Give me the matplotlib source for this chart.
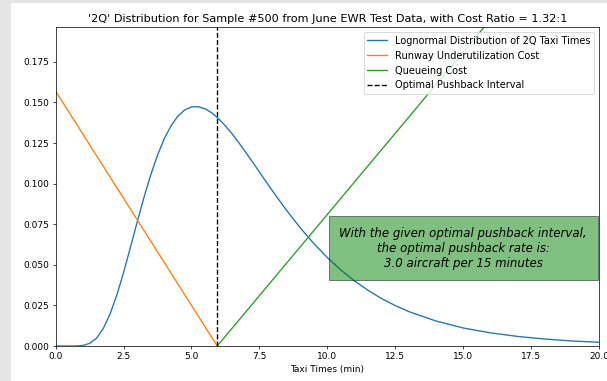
from matplotlib import pyplot as plt
from matplotlib.patches import Rectangle
import numpy as np

# taxi time grid (min) and lognormal density
taxi_times = [0.0, 0.5, 0.75, 1.0, 1.25, 1.5, 1.75, 2.0, 2.25, 2.5, 2.75, 3.0,
              3.25, 3.5, 3.75, 4.0, 4.25, 4.5, 4.75, 5.0, 5.25, 5.5, 5.75, 6.0,
              6.25, 6.5, 6.75, 7.0, 7.25, 7.5, 8.0, 8.5, 9.0, 9.5, 10.0, 10.5,
              11.0, 11.5, 12.0, 12.5, 13.0, 14.0, 15.0, 16.0, 17.0, 18.0, 19.0, 20.0]
density = [0.0, 0.0, 0.0, 0.0003, 0.0016, 0.0047, 0.0106, 0.0195, 0.0312, 0.0452,
           0.0605, 0.0762, 0.0914, 0.1053, 0.1175, 0.1277, 0.1357, 0.1416, 0.1454,
           0.1473, 0.1474, 0.1461, 0.1436, 0.1400, 0.1356, 0.1306, 0.1251, 0.1192,
           0.1133, 0.1072, 0.0951, 0.0836, 0.0729, 0.0632, 0.0545, 0.0468, 0.0401,
           0.0343, 0.0292, 0.0249, 0.0212, 0.0154, 0.0111, 0.0081, 0.0059, 0.0043,
           0.0031, 0.0023]

optimal_interval = 5.95
runway_x = [0.0, optimal_interval]
runway_cost = [0.157, 0.0]
queue_x = [optimal_interval, 20.0]
queue_cost = [0.0, 0.281]

DPI = 65
fig = plt.figure(figsize=(607 / DPI, 381 / DPI), dpi=DPI, facecolor='#e4e4e4')
# white page area of the screenshot, drawn under the axes
fig.patches.append(Rectangle((11 / 607, 0), 1, 378 / 381, transform=fig.transFigure,
                             facecolor='white', edgecolor='none', zorder=-10))

ax = fig.add_axes([55.6 / 607, 35 / 381, (599 - 55.6) / 607, (346 - 27) / 381])
ax.plot(taxi_times, density, label='Lognormal Distribution of 2Q Taxi Times')
ax.plot(runway_x, runway_cost, label='Runway Underutilization Cost')
ax.plot(queue_x, queue_cost, label='Queueing Cost')
ax.axvline(optimal_interval, color='k', linestyle='--', label='Optimal Pushback Interval')

ax.set_xlim(0, 20)
ax.set_ylim(0, 0.1965)
ax.set_title("'2Q' Distribution for Sample #500 from June EWR Test Data, with Cost Ratio = 1.32:1",
             fontsize=12.5)
ax.set_xlabel('Taxi Times (min)')
ax.legend(loc='upper right', fontsize=10.8, labelspacing=0.5)

ax.text(15.0, 0.0603,
        'With the given optimal pushback interval,\nthe optimal pushback rate is:\n3.0 aircraft per 15 minutes',
        ha='center', va='center', fontsize=13, style='italic',
        bbox=dict(boxstyle='square,pad=0.9', facecolor='green', alpha=0.5))

fig.savefig('out.png', dpi=DPI, facecolor=fig.get_facecolor())
